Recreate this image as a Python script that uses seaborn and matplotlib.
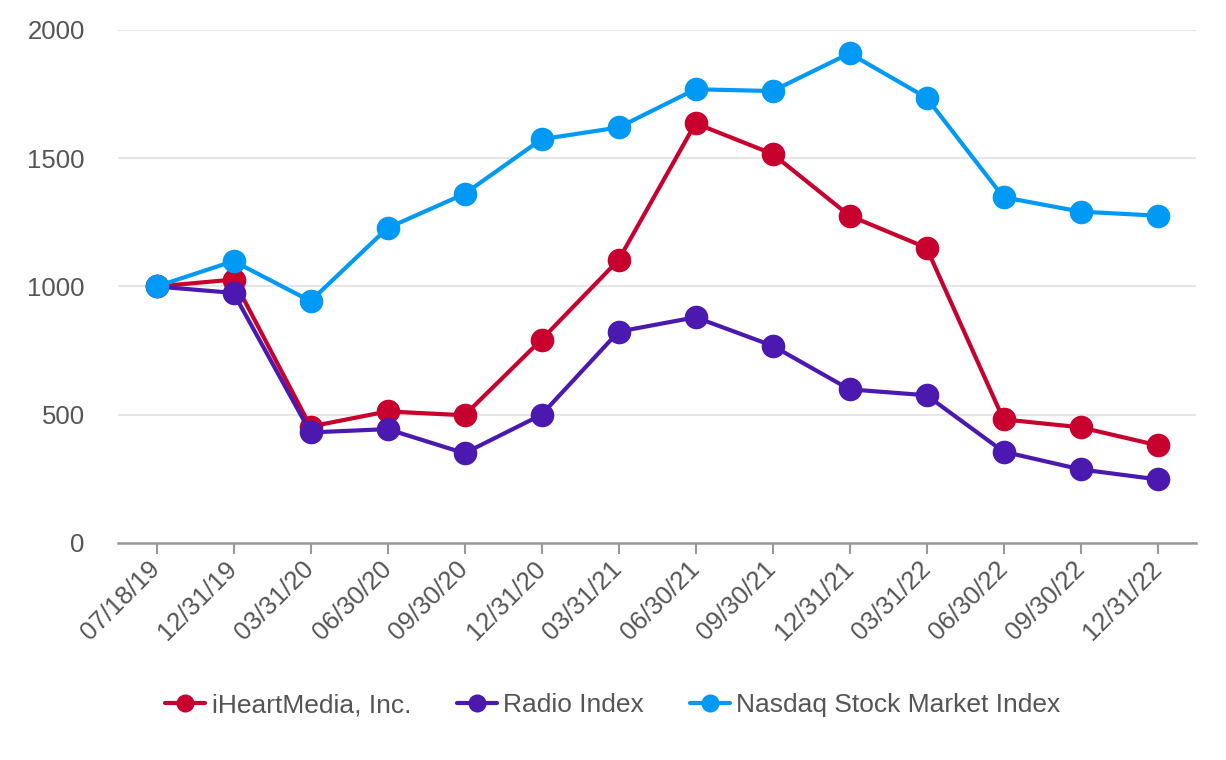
import matplotlib
matplotlib.use("Agg")
import matplotlib.pyplot as plt
import seaborn as sns
import pandas as pd
from matplotlib.lines import Line2D

dates = ["07/18/19", "12/31/19", "03/31/20", "06/30/20", "09/30/20", "12/31/20", "03/31/21",
         "06/30/21", "09/30/21", "12/31/21", "03/31/22", "06/30/22", "09/30/22", "12/31/22"]
iheart = [1000, 1027, 454, 513, 498, 793, 1103, 1636, 1517, 1276, 1151, 482, 451, 381]
radio = [1000, 975, 431, 444, 350, 500, 824, 880, 769, 599, 576, 356, 287, 248]
nasdaq = [1000, 1099, 943, 1228, 1361, 1574, 1620, 1769, 1762, 1909, 1736, 1348, 1292, 1276]
series_names = ["iHeartMedia, Inc.", "Radio Index", "Nasdaq Stock Market Index"]
colors = ["#C8002E", "#4B19B0", "#0099F5"]

sns.set_theme(style="white")
plt.rcParams["font.family"] = ["Liberation Sans", "DejaVu Sans"]

rows = []
for name, vals in zip(series_names, [iheart, radio, nasdaq]):
    for i, (d, v) in enumerate(zip(dates, vals)):
        rows.append({"pos": i, "date": d, "value": v, "series": name})
df = pd.DataFrame(rows)

fig = plt.figure(figsize=(12.26, 7.6), dpi=100)
ax = fig.add_axes([118 / 1226, 1 - 543 / 760, (1196 - 118) / 1226, (543 - 30) / 760])

for name, col in zip(series_names, colors):
    sub = df[df["series"] == name]
    sns.lineplot(data=sub, x="pos", y="value", ax=ax, color=col, linewidth=3,
                 marker="o", markersize=17, markeredgewidth=0, sort=False,
                 legend=False, clip_on=False)

ax.set_xlim(-0.5, len(dates) - 0.5)
ax.set_ylim(0, 2000)
ax.set_yticks([0, 500, 1000, 1500, 2000])
ax.set_xticks(range(len(dates)))
ax.set_xticklabels(dates, rotation=45, ha="right", va="center", rotation_mode="anchor")
ax.set_xlabel("")
ax.set_ylabel("")

ax.yaxis.grid(True, color="#e6e6e6", linewidth=1.5)
ax.xaxis.grid(False)
ax.set_axisbelow(True)
for s in ["left", "right", "top"]:
    ax.spines[s].set_visible(False)
ax.spines["bottom"].set_color("#999999")
ax.spines["bottom"].set_linewidth(1.8)

ax.tick_params(axis="y", length=0, pad=24, labelsize=18.5, labelcolor="#555555")
ax.tick_params(axis="x", bottom=True, length=8, width=1.5, color="#999999", pad=8,
               labelsize=18.5, labelcolor="#555555", direction="out")

handles = [Line2D([0], [0], color=c, linewidth=3, marker="o", markersize=13,
                  markeredgewidth=0) for c in colors]
fig.legend(handles, series_names, loc="center", bbox_to_anchor=(0.5, 0.072), ncol=3,
           frameon=False, fontsize=19, handlelength=1.5, handletextpad=0.25,
           columnspacing=1.75, labelcolor="#555555")

fig.savefig("out.png", dpi=100)
